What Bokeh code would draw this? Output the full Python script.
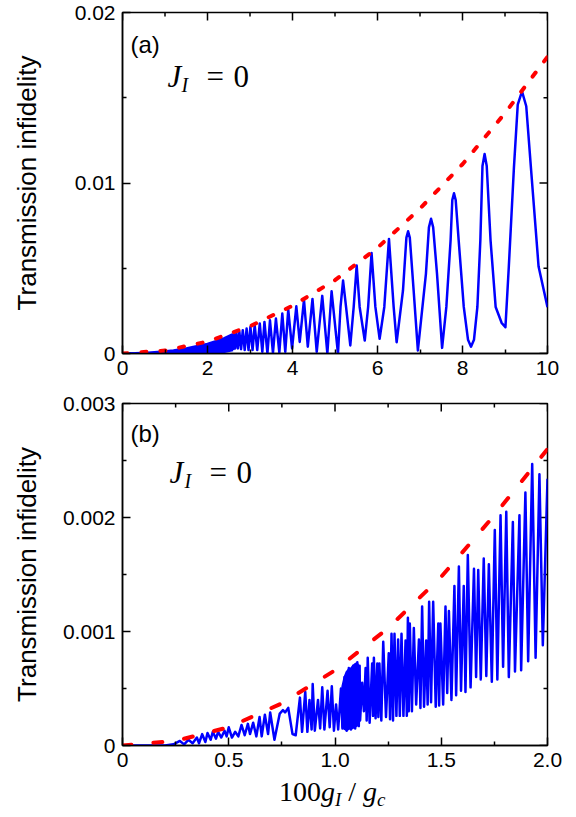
from bokeh.plotting import figure
from bokeh.models import Label, FixedTicker, Range1d, Div
from bokeh.layouts import column
from bokeh.embed import file_html
from bokeh.resources import INLINE

# ---------------- panel (a) data ----------------
a_xticks = [0, 2, 4, 6, 8, 10]
a_xtick_labels = ["0", "2", "4", "6", "8", "10"]
a_xminor = [1, 3, 5, 7, 9]
a_yticks = [0, 0.01, 0.02]
a_ytick_labels = ["0", "0.01", "0.02"]
a_yminor = [0.005, 0.015]

# red dashed envelope
a_env_x = [0, 1, 2, 3, 4, 5, 6, 7, 8, 9, 10]
a_env_y = [0, 0.00017, 0.0007, 0.0016, 0.0028, 0.0043, 0.0062, 0.0085, 0.0111, 0.0141, 0.0174]

# unresolved (dense) part of the blue curve: band between lower and upper edge
a_band_x = [0.0, 0.3, 0.6, 0.9, 1.2, 1.5, 1.8, 2.0, 2.2, 2.4, 2.6]
a_band_top = [0.0, 0.00001, 0.00005, 0.0001, 0.00018, 0.0003, 0.00045, 0.00056, 0.00072, 0.0009, 0.00113]
a_band_bot = [0.0, 0.0, 0.0, 0.0, 0.0, 0.0, 0.0, 0.0, 0.00003, 0.0001, 0.0002]

# resolved oscillations of the blue curve (peaks, troughs, flanks)
a_osc_x = [2.60, 2.62, 2.65, 2.68, 2.715, 2.75, 2.79, 2.83, 2.875, 2.92, 2.965, 3.01, 3.06,
           3.11, 3.17, 3.23, 3.29, 3.34, 3.41, 3.47, 3.54, 3.61, 3.69, 3.76, 3.83, 3.90, 3.99,
           4.09, 4.17, 4.27, 4.36, 4.47, 4.57, 4.70, 4.82, 4.92, 5.07,
           5.13, 5.19, 5.26, 5.36, 5.44, 5.51, 5.58, 5.70, 5.78, 5.86, 5.95, 6.05, 6.16, 6.27, 6.38, 6.45,
           6.60, 6.68, 6.72, 6.76, 6.85, 6.95, 7.14, 7.21, 7.26, 7.31, 7.40, 7.52,
           7.62, 7.72, 7.76, 7.80, 7.84, 7.91, 8.03, 8.13, 8.20, 8.27,
           8.35, 8.42, 8.47, 8.52, 8.57, 8.66, 8.78, 8.92, 9.01, 9.09, 9.21, 9.30, 9.40, 9.50, 9.61, 9.79, 10.0]
a_osc_y = [0.0002, 0.00113, 0.0003, 0.0012, 0.0003, 0.00127, 0.00025, 0.00137, 0.0002, 0.00146, 0.0002, 0.00156, 0.0002,
           0.00166, 0.0002, 0.00176, 0.0001, 0.00185, 0.0, 0.00195, 0.00003, 0.00205, 0.00005, 0.00234, 0.0001, 0.00258, 0.0003,
           0.00277, 0.00068, 0.00315, 0.0004, 0.0032, 0.0001, 0.00338, 0.0, 0.00365, 0.0,
           0.00273, 0.00428, 0.00273, 0.00047, 0.00273, 0.00516, 0.00273, 0.00076, 0.00273, 0.0059, 0.00273, 0.00086, 0.00273, 0.00672, 0.00273, 0.00066,
           0.00371, 0.0068, 0.00717, 0.0068, 0.00371, 0.00018, 0.00469, 0.0074, 0.0079, 0.0074, 0.00469, 0.00033,
           0.00273, 0.00664, 0.0090, 0.0094, 0.0090, 0.00664, 0.00273, 0.0008, 0.0004, 0.0008,
           0.00273, 0.00664, 0.0110, 0.0117, 0.0110, 0.00664, 0.00273, 0.0018, 0.00154, 0.0051, 0.0109, 0.0146, 0.01537, 0.0145, 0.0109, 0.0051, 0.00272]

# ---------------- panel (b) data ----------------
b_xticks = [0, 0.5, 1.0, 1.5, 2.0]
b_xtick_labels = ["0", "0.5", "1.0", "1.5", "2.0"]
b_xminor = [0.25, 0.75, 1.25, 1.75]
b_yticks = [0, 0.001, 0.002, 0.003]
b_ytick_labels = ["0", "0.001", "0.002", "0.003"]
b_yminor = [0.0005, 0.0015, 0.0025]

b_env_x = [0, 0.25, 0.5, 0.75, 1.0, 1.25, 1.5, 1.75, 2.0]
b_env_y = [0, 0.00004, 0.00016, 0.00037, 0.00066, 0.00103, 0.00148, 0.00202, 0.0026]

b_cl_x = [1.03, 1.04, 1.05, 1.06, 1.07, 1.08, 1.09, 1.10, 1.11, 1.116]
b_cl_top = [0.00052, 0.0006, 0.00065, 0.00067, 0.00068, 0.0007, 0.00072, 0.00073, 0.00072, 0.0007]
b_cl_bot = [0.00016, 0.00014, 0.00013, 0.00013, 0.00014, 0.00014, 0.00015, 0.00016, 0.00017, 0.0002]

b_osc_x = [0.00, 0.20, 0.24, 0.27, 0.29, 0.31, 0.33, 0.35, 0.36, 0.375, 0.39, 0.40, 0.415, 0.425, 0.44,
           0.45, 0.465, 0.48, 0.49, 0.50, 0.515, 0.53, 0.545, 0.56, 0.575, 0.59, 0.60, 0.615, 0.63, 0.645,
           0.655, 0.67, 0.685, 0.695, 0.715, 0.74, 0.755, 0.765, 0.78, 0.80, 0.815, 0.835, 0.845, 0.86, 0.87,
           0.88, 0.89, 0.895, 0.905, 0.92, 0.93, 0.94, 0.95, 0.965, 0.975, 0.985, 0.995, 1.005, 1.015, 1.028,
           1.035, 1.045, 1.055, 1.065, 1.075, 1.085, 1.095, 1.105, 1.112, 1.116, 1.118, 1.128, 1.136,
           1.144, 1.149, 1.154, 1.163, 1.175, 1.179, 1.183, 1.191, 1.199, 1.204, 1.209, 1.218, 1.227, 1.240,
           1.253, 1.259, 1.266, 1.273, 1.280, 1.289, 1.297, 1.305, 1.313, 1.322, 1.332, 1.338, 1.343, 1.347,
           1.352, 1.362, 1.371, 1.382, 1.395, 1.402, 1.410, 1.419, 1.429, 1.436, 1.443, 1.452, 1.462, 1.474,
           1.486, 1.490, 1.496, 1.509, 1.520, 1.528, 1.536, 1.548, 1.562, 1.570, 1.583, 1.593, 1.606, 1.614,
           1.625, 1.638, 1.654, 1.664, 1.674, 1.686, 1.700, 1.712, 1.724, 1.738, 1.752, 1.764, 1.779, 1.791,
           1.806, 1.818, 1.837, 1.847, 1.868, 1.876, 1.896, 1.909, 1.928, 1.944, 1.962, 1.978, 2.0]
b_osc_y = [0, 0, 0.00001, 0.00004, 0.00001, 0.00005, 0.00002, 0.00007, 0.00002, 0.0001, 0.00003, 0.00011, 0.00005, 0.00012, 0.00006,
           0.00012, 0.00007, 0.00013, 0.00008, 0.00016, 0.00007, 0.00012, 0.00008, 0.00018, 0.00009, 0.00019, 0.0001, 0.0002, 0.00008, 0.00025,
           0.00008, 0.00027, 0.0001, 0.00029, 0.00005, 0.00028, 0.00031, 0.00029, 0.00033, 0.0001, 0.00009, 0.00042, 0.00012, 0.00047, 0.00012,
           0.0004, 0.00014, 0.00054, 0.00013, 0.0004, 0.00015, 0.00051, 0.00014, 0.00048, 0.00016, 0.00052, 0.00013, 0.00036, 0.00014, 0.0005,
           0.00015, 0.0006, 0.00013, 0.00068, 0.00014, 0.0007, 0.00015, 0.00073, 0.00017, 0.0007, 0.00022, 0.00055, 0.0003,
           0.00068, 0.00022, 0.00077, 0.0002, 0.00072, 0.00026, 0.00077, 0.00024, 0.00072, 0.00025, 0.00072, 0.00022, 0.00091, 0.00025,
           0.00081, 0.00023, 0.00098, 0.00022, 0.00098, 0.00026, 0.00093, 0.00026, 0.00098, 0.00026, 0.00092, 0.00026, 0.00112, 0.0003,
           0.00107, 0.0003, 0.00103, 0.00036, 0.00093, 0.00033, 0.00122, 0.00034, 0.00092, 0.00036, 0.00126, 0.00038, 0.00126, 0.00034,
           0.00107, 0.00035, 0.00107, 0.00036, 0.00122, 0.00046, 0.00118, 0.0004, 0.0014, 0.00044, 0.00157, 0.00048, 0.0014, 0.00047,
           0.00167, 0.00051, 0.00155, 0.0006, 0.00154, 0.00058, 0.00164, 0.00061, 0.00159, 0.00056, 0.00189, 0.00058, 0.00202, 0.00069,
           0.00205, 0.0006, 0.00196, 0.00065, 0.00202, 0.00066, 0.00222, 0.00074, 0.00247, 0.00077, 0.00238, 0.00088, 0.00234]

BLUE = "#0000ff"
RED = "#ff0000"
SANS = "Liberation Sans"
SERIF = "Liberation Serif"

FRAME_L = 122      # page px of the frame's left edge
FRAME_W = 425
FRAME_R = FRAME_L + FRAME_W
PAGE_W = 576


def make_panel(xr, yr, top_px, fheight, bottom_border, xt, xtl, xm, yt, ytl, ym, label_standoff):
    p = figure(frame_width=FRAME_W, frame_height=fheight,
               x_range=Range1d(*xr), y_range=Range1d(*yr),
               output_backend="svg", toolbar_location=None,
               min_border_left=FRAME_L, min_border_right=PAGE_W - FRAME_R,
               min_border_top=top_px, min_border_bottom=bottom_border,
               background_fill_color="white", border_fill_color="white")
    p.xgrid.visible = False
    p.ygrid.visible = False
    p.outline_line_color = "black"
    p.outline_line_width = 1.5

    bottom = p.below[0]
    left = p.left[0]
    bottom.ticker = FixedTicker(ticks=xt, minor_ticks=xm)
    left.ticker = FixedTicker(ticks=yt, minor_ticks=ym)
    bottom.major_label_overrides = dict(zip(xt, xtl))
    left.major_label_overrides = dict(zip(yt, ytl))

    for ax in [bottom, left]:
        ax.axis_line_color = "black"
        ax.axis_line_width = 1.5
        ax.major_tick_in = 8
        ax.major_tick_out = 0
        ax.minor_tick_in = 4
        ax.minor_tick_out = 0
        ax.major_tick_line_color = "black"
        ax.minor_tick_line_color = "black"
        ax.major_tick_line_width = 1.5
        ax.minor_tick_line_width = 1.5
        ax.major_label_text_font = SANS
        ax.major_label_text_font_size = "21px"
        ax.major_label_text_color = "black"
    bottom.major_label_standoff = 7
    left.major_label_standoff = 7

    left.axis_label = "Transmission infidelity"
    left.axis_label_text_font = SANS
    left.axis_label_text_font_size = "26px"
    left.axis_label_text_font_style = "normal"
    left.axis_label_text_color = "black"
    left.axis_label_standoff = label_standoff

    # mirrored inward ticks on the top and right edges of the frame
    dx = (xr[1] - xr[0]) / FRAME_W
    dy = (yr[1] - yr[0]) / fheight
    for ticks, ln in [(xt, 8), (xm, 4)]:
        p.segment(x0=ticks, y0=[yr[1]] * len(ticks), x1=ticks, y1=[yr[1] - ln * dy] * len(ticks),
                  line_color="black", line_width=1.5)
    for ticks, ln in [(yt, 8), (ym, 4)]:
        p.segment(x0=[xr[1]] * len(ticks), y0=ticks, x1=[xr[1] - ln * dx] * len(ticks), y1=ticks,
                  line_color="black", line_width=1.5)
    return p


# ---------------- panel (a) ----------------
A_TOP, A_BOT = 12, 353
A_BORDER_B = 27
pa = make_panel((0, 10), (0, 0.02), A_TOP, A_BOT - A_TOP, A_BORDER_B,
                a_xticks, a_xtick_labels, a_xminor, a_yticks, a_ytick_labels, a_yminor, 30)

pa.varea(x=a_band_x, y1=a_band_bot, y2=a_band_top, fill_color=BLUE)
pa.line(a_band_x, a_band_top, line_color=BLUE, line_width=2.5)
pa.line(a_band_x, a_band_bot, line_color=BLUE, line_width=2.5)
pa.line(a_osc_x, a_osc_y, line_color=BLUE, line_width=2.5, line_join="round")
pa.line(a_env_x, a_env_y, line_color=RED, line_width=4, line_dash="5 14", line_cap="round")


def fxa(X):
    return (X - FRAME_L) / FRAME_W * 10


def fya(Y):
    return (A_BOT - Y) / (A_BOT - A_TOP) * 0.02


# ---------------- panel (b) ----------------
B_PAGE0 = A_BOT + A_BORDER_B          # page y where figure (b) starts
B_TOP, B_BOT = 403, 745
B_BORDER_B = 31
pb = make_panel((0, 2), (0, 0.003), B_TOP - B_PAGE0, B_BOT - B_TOP, B_BORDER_B,
                b_xticks, b_xtick_labels, b_xminor, b_yticks, b_ytick_labels, b_yminor, 18)

pb.varea(x=b_cl_x, y1=b_cl_bot, y2=b_cl_top, fill_color=BLUE)
pb.line(b_osc_x, b_osc_y, line_color=BLUE, line_width=2.5, line_join="round")
pb.line(b_env_x, b_env_y, line_color=RED, line_width=4, line_dash="9 22", line_cap="round")


def fxb(X):
    return (X - FRAME_L) / FRAME_W * 2


def fyb(Y):
    return (B_BOT - Y) / (B_BOT - B_TOP) * 0.003


def put(p, fx, fy, X, Y, txt, size, font, style="normal"):
    p.add_layout(Label(x=fx(X), y=fy(Y), text=txt, text_font=font,
                       text_font_size=f"{size}px", text_font_style=style,
                       text_align="left", text_baseline="alphabetic", text_color="black"))


# panel letters and J_I = 0 annotations
put(pa, fxa, fya, 130, 44, "(a)", 24, SANS)
put(pa, fxa, fya, 167, 76, "J", 31, SERIF, "italic")
put(pa, fxa, fya, 181, 84, "I", 20, SERIF, "italic")
put(pa, fxa, fya, 206, 76, "=", 31, SERIF)
put(pa, fxa, fya, 233, 76, "0", 31, SERIF)

put(pb, fxb, fyb, 130, 433, "(b)", 24, SANS)
put(pb, fxb, fyb, 169, 472, "J", 31, SERIF, "italic")
put(pb, fxb, fyb, 184, 480, "I", 20, SERIF, "italic")
put(pb, fxb, fyb, 209, 472, "=", 31, SERIF)
put(pb, fxb, fyb, 236, 472, "0", 31, SERIF)

# x-axis title: 100 g_I / g_c  (HTML text under panel (b))
XT_LEFT = 279
title_html = (
    '<div style="font-family:\'Liberation Serif\'; font-size:28px; color:black; '
    f'line-height:32px; text-align:left; white-space:nowrap; padding-left:{XT_LEFT}px;">'
    '100<i>g</i><sub style="font-size:19px; vertical-align:-5px;"><i>I</i></sub>'
    '&nbsp;/&nbsp;<i>g</i><sub style="font-size:19px; vertical-align:-5px;"><i>c</i></sub>'
    '</div>'
)
xtitle = Div(text=title_html, width=PAGE_W, height=40, margin=0)

layout = column(pa, pb, xtitle, spacing=0)
open("out.html", "w").write(file_html(layout, INLINE))
